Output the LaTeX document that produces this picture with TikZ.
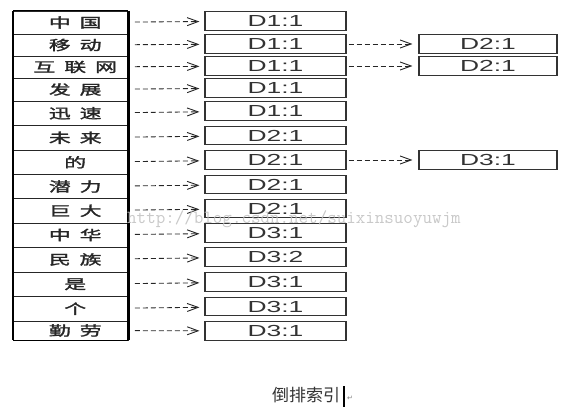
\documentclass[tikz,border=0pt]{standalone}
\usepackage{fontspec,graphicx}
\usetikzlibrary{arrows.meta}
\newfontfamily\cjk{Noto Sans CJK SC}[LetterSpace=41,FakeBold=1.5]
\newfontfamily\cjkcap{Noto Sans CJK SC}
\newfontfamily\dfont{Liberation Sans}
\newfontfamily\retfont{DejaVu Sans}
\newcommand{\wordtext}[1]{\fontsize{13.5}{14}\selectfont\scalebox{1.62}[1]{\hspace{.41em}\cjk #1}}
\newcommand{\dtext}[1]{\fontsize{16}{16}\selectfont\scalebox{1.65}[1]{\dfont #1}}
\begin{document}
\begin{tikzpicture}[x=1pt,y=-1pt,
  wordcell/.style={draw=black!85, line width=.9pt, minimum width=114.5pt, inner sep=0pt, text=black!85},
  dbox/.style={draw=black!80, line width=1.1pt, minimum width=141pt, minimum height=18.5pt, inner sep=0pt, text=black!80},
  dbox2/.style={dbox, minimum width=138pt},
  darr/.style={dashed, dash pattern=on 5pt off 3pt, line width=.85pt, black!85, -{Straight Barb[length=11pt,width=8pt,line width=.9pt]}}]
  \useasboundingbox (0,0) rectangle (581,417);
  \foreach \i/\t/\b/\w/\d in {1/11/34/中国/D1:1, 2/34/56/移动/D1:1, 3/56/78/互联网/D1:1, 4/78/101/发展/D1:1,
      5/101/125.5/迅速/D1:1, 6/125.5/150/未来/D2:1, 7/150/174.5/的/D2:1, 8/174.5/198.5/潜力/D2:1,
      9/198.5/223/巨大/D2:1, 10/223/247/中华/D3:1, 11/247/272/民族/D3:2, 12/272/296.5/是/D3:1,
      13/296.5/321/个/D3:1, 14/321/340/勤劳/D3:1} {
    \node[wordcell, minimum height={\b-\t}] (w\i) at (70.75,{(\t+\b)/2}) {\wordtext{\w}};
    \node[dbox] (d\i) at (275.5,{\t+10}) {\dtext{\d}};
    \draw[darr, shorten <=6.5pt, shorten >=5pt] (w\i) -- (d\i);
  }
  \draw[line width=2.8pt] (w1.north west) -- (w14.south west) (w1.north east) -- (w14.south east);
  \draw[line width=1.6pt] (w1.north west) -- (w1.north east) (w14.south west) -- (w14.south east);
  \node[dbox2] (e2) at (488,{34+10}) {\dtext{D2:1}};
  \node[dbox2] (e3) at (488,{56+10}) {\dtext{D2:1}};
  \node[dbox2] (e7) at (488,{150+10}) {\dtext{D3:1}};
  \foreach \i in {2,3,7}
    \draw[darr, shorten <=2pt, shorten >=6pt] (d\i) -- (e\i);
  \node[text=black!80, font=\cjkcap\fontsize{17}{17}\selectfont] (cap) at (306,395) {倒排索引};
  \draw[line width=2.2pt] (344,386) -- (344,407);
  \node[text=black!50, font=\retfont\fontsize{7}{7}\selectfont, inner sep=0pt] (ret) at (350,398) {↵};
  \node[anchor=base west, inner sep=0pt, text=black!25, opacity=.85, font=\ttfamily\fontsize{18.5}{18.5}\selectfont] (wm) at (127,223) {http://blog.csdn.net/suixinsuoyuwjm};
\end{tikzpicture}
\end{document}
